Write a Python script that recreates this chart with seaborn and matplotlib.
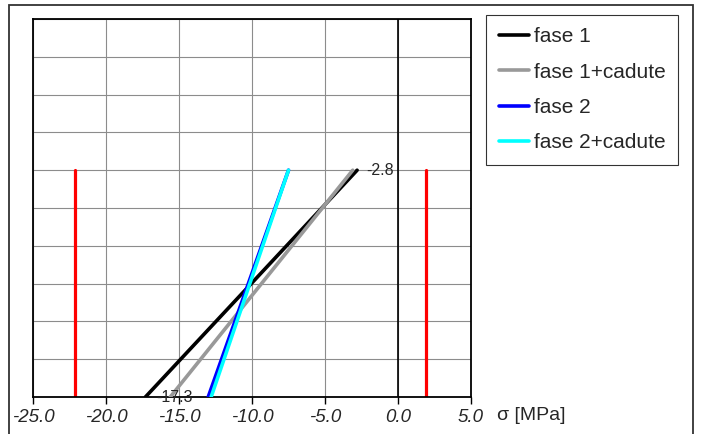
import pandas as pd
import matplotlib.pyplot as plt
import seaborn as sns
from matplotlib.patches import Rectangle

# --- data ---
fasi = ["fase 1", "fase 1+cadute", "fase 2", "fase 2+cadute"]
sigma_bottom = [-17.3, -15.6, -13.0, -12.8]   # MPa at bottom fibre
sigma_top = [-2.8, -3.1, -7.5, -7.5]          # MPa at top fibre
colori = ["black", "#999999", "blue", "cyan"]
larghezze = [2.2, 2.2, 1.6, 2.4]

h_sezione = 1.2            # section height (top fibre)
limite_compr = -22.1       # red limit lines
limite_traz = 1.9

x_ticks = [-25.0, -20.0, -15.0, -10.0, -5.0, 0.0, 5.0]
y_ticks = [0.0, 0.2, 0.4, 0.6, 0.8, 1.0, 1.2, 1.4, 1.6, 1.8, 2.0]

rows = []
for f, sb, st in zip(fasi, sigma_bottom, sigma_top):
    rows.append({"fase": f, "sigma": sb, "y": 0.0})
    rows.append({"fase": f, "sigma": st, "y": h_sezione})
df = pd.DataFrame(rows)

sns.set_style("white")
plt.rcParams["font.family"] = ["Liberation Sans", "DejaVu Sans"]

W, H = 701, 434
fig = plt.figure(figsize=(W / 100, H / 100), dpi=100)
ax = fig.add_axes([33 / W, (H - 397) / H, 438 / W, 378 / H])

# outer frame
fig.patches.append(Rectangle((9 / W, -0.1), (693 - 9) / W, 1.1 - 5 / H,
                             transform=fig.transFigure, fill=False,
                             edgecolor="#333333", lw=1.3, zorder=0))

for xv in x_ticks:
    ax.axvline(xv, color="#8c8c8c", lw=0.8, zorder=0)
for yv in y_ticks:
    ax.axhline(yv, color="#8c8c8c", lw=0.8, zorder=0)
ax.axvline(0.0, color="black", lw=1.2, zorder=1)

# red limits
ax.plot([limite_compr, limite_compr], [0, h_sezione], color="red", lw=2.3, zorder=2)
ax.plot([limite_traz, limite_traz], [0, h_sezione], color="red", lw=2.3, zorder=2)

for f, c, lw in zip(fasi, colori, larghezze):
    sub = df[df["fase"] == f]
    sns.lineplot(data=sub, x="sigma", y="y", color=c, lw=lw, sort=False,
                 estimator=None, ax=ax, label=f, zorder=3)

ax.annotate(f"{sigma_top[0]:.1f}", (sigma_top[0], h_sezione), xytext=(6.5, 0),
            textcoords="offset points", va="center", ha="left", fontsize=11.5)
ax.annotate(f"{sigma_bottom[0]:.1f}", (sigma_bottom[0], 0.0), xytext=(7.5, 0),
            textcoords="offset points", va="center", ha="left", fontsize=11.5)

ax.set_xlim(-25, 5)
ax.set_ylim(0, 2.0)
ax.set_xticks(x_ticks)
ax.set_xticklabels([f"{v:.1f}" for v in x_ticks], fontstyle="italic", fontsize=13.5)
ax.set_yticks([])
ax.tick_params(axis="x", direction="out", length=5, width=1, color="black", pad=3.5, bottom=True)
ax.set_xlabel("")
ax.set_ylabel("")
for s in ax.spines.values():
    s.set_color("black")
    s.set_linewidth(1.3)
ax.get_legend().remove()

fig.text(497 / W, (H - 416) / H, "σ [MPa]", fontsize=14, va="center", ha="left")

handles, labels = ax.get_legend_handles_labels()
for hnd in handles:
    hnd.set_linewidth(2.6)
leg = fig.legend(handles, labels, loc="upper left",
                 bbox_to_anchor=(486 / W, 1 - 15 / H), fontsize=15,
                 frameon=True, fancybox=False, edgecolor="black",
                 handlelength=1.45, handletextpad=0.25, labelspacing=0.78,
                 borderpad=0.6, borderaxespad=0)
leg.get_frame().set_linewidth(0.8)

fig.savefig("out.png", dpi=100)
